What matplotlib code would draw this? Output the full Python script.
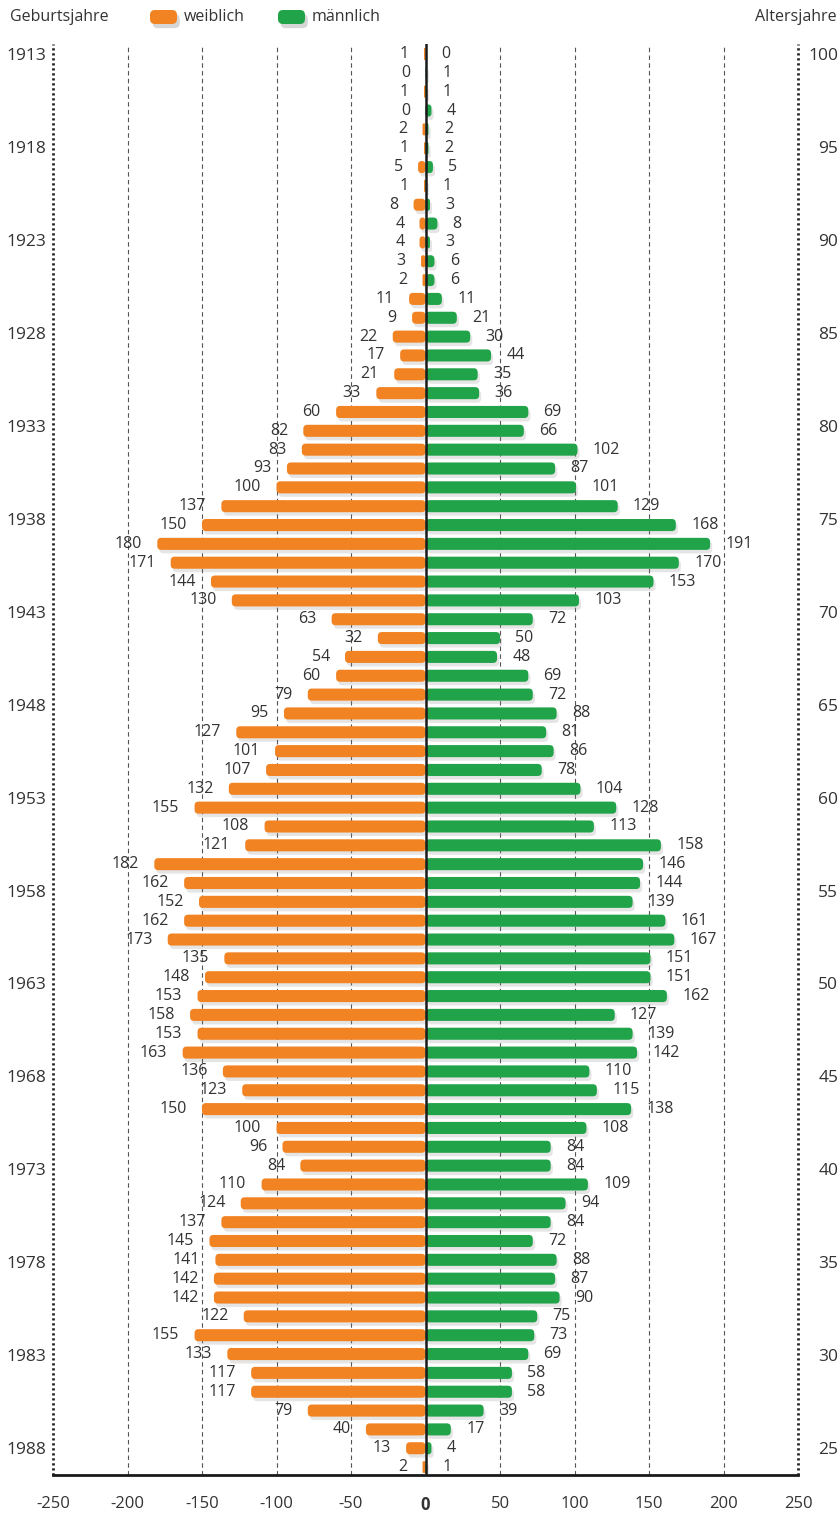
import matplotlib
matplotlib.use("Agg")
import matplotlib.pyplot as plt
import matplotlib.patheffects as pe
from matplotlib.patches import FancyBboxPatch
import numpy as np

# birth cohorts 1913 .. 1988, one row each (top = oldest)
birth_years = list(range(1913, 1989))

female = [1, 0, 1, 0, 2, 1, 5, 1, 8, 4,
          4, 3, 2, 11, 9, 22, 17, 21, 33, 60,
          82, 83, 93, 100, 137, 150, 180, 171, 144, 130,
          63, 32, 54, 60, 79, 95, 127, 101, 107, 132,
          155, 108, 121, 182, 162, 152, 162, 173, 135, 148,
          153, 158, 153, 163, 136, 123, 150, 100, 96, 84,
          110, 124, 137, 145, 141, 142, 142, 122, 155, 133,
          117, 117, 79, 40, 13, 2]

male = [0, 1, 1, 4, 2, 2, 5, 1, 3, 8,
        3, 6, 6, 11, 21, 30, 44, 35, 36, 69,
        66, 102, 87, 101, 129, 168, 191, 170, 153, 103,
        72, 50, 48, 69, 72, 88, 81, 86, 78, 104,
        128, 113, 158, 146, 144, 139, 161, 167, 151, 151,
        162, 127, 139, 142, 110, 115, 138, 108, 84, 84,
        109, 94, 84, 72, 88, 87, 90, 75, 73, 69,
        58, 58, 39, 17, 4, 1]

year_ticks = list(range(1913, 1989, 5))
age_ticks = list(range(100, 24, -5))
x_ticks = list(range(-250, 251, 50))

ORANGE = "#F28322"
GREEN = "#21A34A"
TXT = "#333333"

plt.rcParams["font.family"] = ["Open Sans", "DejaVu Sans"]
plt.rcParams["text.color"] = TXT

W, H = 840, 1515
fig = plt.figure(figsize=(W / 100, H / 100), dpi=100)
ax = fig.add_axes([53 / W, 1 - 1475 / H, 745 / W, (1475 - 44) / H])

n = len(birth_years)
ax.set_xlim(-250, 250)
ax.set_ylim(75.42, -0.53)

# pixel scale of the data units, used to keep the rounded corners circular
fig.canvas.draw()
p0 = ax.transData.transform((0, 0))
p1 = ax.transData.transform((1, 1))
px_x = abs(p1[0] - p0[0])
px_y = abs(p1[1] - p0[1])
aspect = px_x / px_y

bar_h = 0.64
corner = 4 / px_x
shadow = [pe.SimplePatchShadow(offset=(1.5, -2.5), shadow_rgbFace="#8a8a8a", alpha=0.22),
          pe.Normal()]


def add_bar(x0, width, y, color):
    if width <= 0:
        return
    r = min(corner, width / 2)
    box = FancyBboxPatch((x0, y - bar_h / 2), width, bar_h,
                         boxstyle=f"round,pad=0,rounding_size={r}",
                         mutation_aspect=aspect, fc=color, ec="none", zorder=3)
    box.set_path_effects(shadow)
    ax.add_patch(box)


for i, (f, m) in enumerate(zip(female, male)):
    add_bar(-f, f, i, ORANGE)
    add_bar(0, m, i, GREEN)
    ax.annotate(str(f), (-f, i), xytext=(-11, 0), textcoords="offset points",
                ha="right", va="center", fontsize=11.5, color=TXT)
    ax.annotate(str(m), (m, i), xytext=(11, 0), textcoords="offset points",
                ha="left", va="center", fontsize=11.5, color=TXT)

# grid
for x in x_ticks:
    if x in (-250, 250):
        ax.axvline(x, color="#222222", lw=2.0, ls=(0, (0.8, 1.0)), clip_on=False, zorder=1)
    elif x != 0:
        ax.axvline(x, color="#555555", lw=0.8, ls=(0, (4, 3)), zorder=1)
ax.axvline(0, color="#1a1a1a", lw=1.8, zorder=5)

for s in ["top", "left", "right"]:
    ax.spines[s].set_visible(False)
ax.spines["bottom"].set_linewidth(2)
ax.spines["bottom"].set_color("#1a1a1a")

ax.set_xticks(x_ticks)
ax.set_xticklabels([str(x) for x in x_ticks], fontsize=12)
for t in ax.get_xticklabels():
    if t.get_text() == "0":
        t.set_fontweight("bold")
ax.tick_params(axis="x", length=0, pad=15, colors=TXT)

tick_pos = np.linspace(0, n - 2, len(year_ticks))
ax.set_yticks(tick_pos)
ax.set_yticklabels([str(y) for y in year_ticks], fontsize=12.5)
ax.tick_params(axis="y", length=0, pad=5, colors=TXT)

ax2 = ax.twinx()
ax2.set_ylim(ax.get_ylim())
ax2.set_yticks(tick_pos)
ax2.set_yticklabels([str(a) for a in age_ticks], fontsize=12.5, ha="right")
ax2.tick_params(axis="y", length=0, pad=29, colors=TXT)
for s in ax2.spines.values():
    s.set_visible(False)

# header
fig.text(10 / W, 1 - 17 / H, "Geburtsjahre", fontsize=11.5, va="center")
fig.text(837 / W, 1 - 17 / H, "Altersjahre", fontsize=11.5, va="center", ha="right")
for x_px, label, color in [(150, "weiblich", ORANGE), (278, "männlich", GREEN)]:
    sw = FancyBboxPatch((x_px / 100, (H - 24) / 100), 0.27, 0.14,
                        boxstyle="round,pad=0,rounding_size=0.05",
                        transform=fig.dpi_scale_trans, fc=color, ec="none")
    sw.set_path_effects([pe.SimplePatchShadow(offset=(2, -3), shadow_rgbFace="#7a7a7a", alpha=0.3),
                         pe.Normal()])
    fig.add_artist(sw)
    fig.text((x_px + 34) / W, 1 - 17 / H, label, fontsize=11.5, va="center")

fig.savefig("out.png", dpi=100)
